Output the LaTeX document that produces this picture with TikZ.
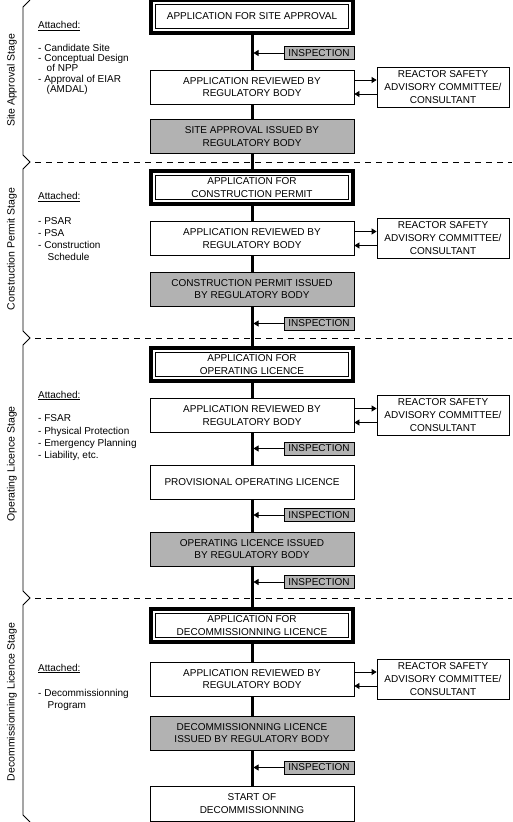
\documentclass[tikz,border=0pt]{standalone}
\usepackage{fontspec}
\setmainfont{Liberation Sans}
\usetikzlibrary{arrows.meta,calc}
\begin{document}
\begin{tikzpicture}[x=1pt,y=-1pt,
  every node/.style={font=\fontsize{10}{12.5}\selectfont, inner sep=0pt},
  flowbox/.style={draw, line width=0.8pt, fill=white, minimum width=204pt, minimum height=34pt, align=center},
  graybox/.style={flowbox, fill=black!30},
  appframe/.style={draw, line width=4pt, fill=white, minimum width=202pt, minimum height=33pt, align=center},
  rsabox/.style={draw, line width=0.8pt, fill=white, minimum width=132pt, minimum height=40pt, align=center, font=\fontsize{10}{13}\selectfont},
  inspbox/.style={draw, line width=0.8pt, fill=black!30, minimum width=70pt, minimum height=13pt},
  spineline/.style={line width=3pt},
  arrowline/.style={-{Triangle[length=5pt,width=6pt]}, line width=0.8pt},
  stagesep/.style={dash pattern=on 6pt off 5pt, line width=0.8pt},
  braceline/.style={line width=0.8pt},
  stagelabel/.style={rotate=90, font=\fontsize{10.5}{12}\selectfont},
  attlabel/.style={anchor=base west}
]
\fill[white] (0,0) rectangle (512,822);
\useasboundingbox (0,0) rectangle (512,822);

% stage separators and braces
\draw[stagesep] (35,162) -- (512,162);
\draw[stagesep] (35,338) -- (512,338);
\draw[stagesep] (35,598) -- (512,598);
\draw[braceline] (30,0) -- (23,7) -- (23,155) -- (30,162) -- (23,169) -- (23,331) -- (30,338) -- (23,345) -- (23,591) -- (30,598) -- (23,605) -- (23,815) -- (30,822);

% stage labels
\node[stagelabel] (lbl1) at (12,80.5) {Site Approval Stage};
\node[stagelabel] (lbl2) at (12,249) {Construction Permit Stage};
\node[stagelabel] (lbl3) at (12,464) {Operating Licence Stage};
\node[stagelabel] (lbl4) at (12,702) {Decommissionning Licence Stage};

% attached lists
\node[attlabel] (att1) at (38,28.5) {\underline{Attached:}};
\node[attlabel] (a1a) at (38,51) {- Candidate Site};
\node[attlabel] (a1b) at (38,61.5) {- Conceptual Design};
\node[attlabel] (a1c) at (38,71.5) {\hspace{8.5pt}of NPP};
\node[attlabel] (a1d) at (38,82) {- Approval of EIAR};
\node[attlabel] (a1e) at (38,92) {\hspace{8.5pt}(AMDAL)};

\node[attlabel] (att2) at (38,199.5) {\underline{Attached:}};
\node[attlabel] (a2a) at (38,224.5) {- PSAR};
\node[attlabel] (a2b) at (38,236) {- PSA};
\node[attlabel] (a2c) at (38,248.5) {- Construction};
\node[attlabel] (a2d) at (38,260.5) {\hspace{9.5pt}Schedule};

\node[attlabel] (att3) at (38,398) {\underline{Attached:}};
\node[attlabel] (a3a) at (38,421.5) {- FSAR};
\node[attlabel] (a3b) at (38,434) {- Physical Protection};
\node[attlabel] (a3c) at (38,446.5) {- Emergency Planning};
\node[attlabel] (a3d) at (38,458.5) {- Liability, etc.};

\node[attlabel] (att4) at (38,671) {\underline{Attached:}};
\node[attlabel] (a4a) at (38,696) {- Decommissionning};
\node[attlabel] (a4b) at (38,708) {\hspace{9.5pt}Program};

% stage 1
\node[appframe] (app1) at (252,16.5) {APPLICATION FOR SITE APPROVAL};
\node[inspbox] (insp1) at (319,53) {INSPECTION};
\node[flowbox] (rev1) at (252,87) {APPLICATION REVIEWED BY\\REGULATORY BODY};
\node[rsabox] (rsa1) at (443,87) {REACTOR SAFETY\\ADVISORY COMMITTEE/\\CONSULTANT};
\node[graybox] (iss1) at (252,136.5) {SITE APPROVAL ISSUED BY\\REGULATORY BODY};

% stage 2
\node[appframe] (app2) at (252,187.5) {APPLICATION FOR\\CONSTRUCTION PERMIT};
\node[flowbox] (rev2) at (252,238.5) {APPLICATION REVIEWED BY\\REGULATORY BODY};
\node[rsabox] (rsa2) at (443,238) {REACTOR SAFETY\\ADVISORY COMMITTEE/\\CONSULTANT};
\node[graybox] (iss2) at (252,289) {CONSTRUCTION PERMIT ISSUED\\BY REGULATORY BODY};
\node[inspbox] (insp2) at (319,323.5) {INSPECTION};

% stage 3
\node[appframe] (app3) at (252,364.5) {APPLICATION FOR\\OPERATING LICENCE};
\node[flowbox] (rev3) at (252,415.5) {APPLICATION REVIEWED BY\\REGULATORY BODY};
\node[rsabox] (rsa3) at (443,415) {REACTOR SAFETY\\ADVISORY COMMITTEE/\\CONSULTANT};
\node[inspbox] (insp3a) at (319,448.5) {INSPECTION};
\node[flowbox] (prov) at (252,482) {PROVISIONAL OPERATING LICENCE};
\node[inspbox] (insp3b) at (319,515) {INSPECTION};
\node[graybox] (iss3) at (252,549) {OPERATING LICENCE ISSUED\\BY REGULATORY BODY};
\node[inspbox] (insp3c) at (319,582) {INSPECTION};

% stage 4
\node[appframe] (app4) at (252,625.5) {APPLICATION FOR\\DECOMMISSIONNING LICENCE};
\node[flowbox] (rev4) at (252,679) {APPLICATION REVIEWED BY\\REGULATORY BODY};
\node[rsabox] (rsa4) at (443,679) {REACTOR SAFETY\\ADVISORY COMMITTEE/\\CONSULTANT};
\node[graybox] (iss4) at (252,733) {DECOMMISSIONNING LICENCE\\ISSUED BY REGULATORY BODY};
\node[inspbox] (insp4) at (319,767.5) {INSPECTION};
\node[flowbox, minimum height=35pt] (start) at (252,803.5) {START OF\\DECOMMISSIONNING};

% inner frames of application boxes
\foreach \n in {app1,app2,app3,app4}
  \draw[line width=0.8pt] ([shift={(6.3pt,-6.3pt)}]\n.north west) rectangle ([shift={(-6.3pt,6.3pt)}]\n.south east);

% spine
\draw[spineline] (app1) -- (rev1);
\draw[spineline] (rev1) -- (iss1);
\draw[spineline] (iss1) -- (app2);
\draw[spineline] (app2) -- (rev2);
\draw[spineline] (rev2) -- (iss2);
\draw[spineline] (iss2) -- (app3);
\draw[spineline] (app3) -- (rev3);
\draw[spineline] (rev3) -- (prov);
\draw[spineline] (prov) -- (iss3);
\draw[spineline] (iss3) -- (app4);
\draw[spineline] (app4) -- (rev4);
\draw[spineline] (rev4) -- (iss4);
\draw[spineline] (iss4) -- (start);

% inspection arrows
\foreach \n in {insp1,insp2,insp3a,insp3b,insp3c,insp4} {
  \coordinate (\n-s) at (\n.west -| 253.5,0);
  \draw[arrowline] (\n.west) -- (\n-s);
}

% reactor safety arrows
\foreach \r/\a in {rev1/rsa1,rev2/rsa2,rev3/rsa3,rev4/rsa4} {
  \draw[arrowline] ([yshift=7pt]\r.east) -- ([yshift=7pt]\r.east -| \a.west);
  \draw[arrowline] ([yshift=-7pt]\r.east -| \a.west) -- ([yshift=-7pt]\r.east);
}
\end{tikzpicture}
\end{document}
